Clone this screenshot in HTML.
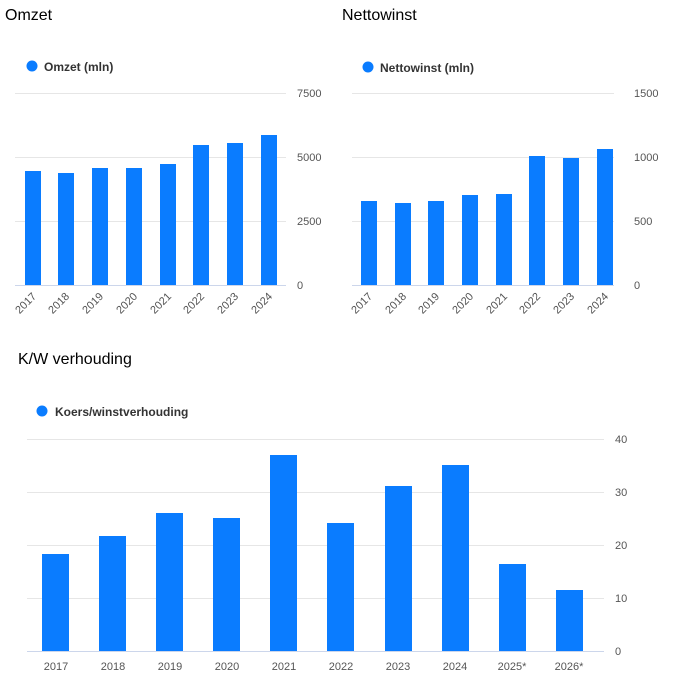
<!DOCTYPE html><html><head><style>body{margin:0;background:#fff}svg{display:block}text{font-family:"Liberation Sans",sans-serif}</style></head><body>
<svg width="674" height="697" xmlns="http://www.w3.org/2000/svg">
<g font-size="16" fill="#000"><text x="5" y="20">Omzet</text><text x="342" y="20">Nettowinst</text><text x="18" y="364">K/W verhouding</text></g>
<g font-size="12" fill="#333" font-weight="bold"><circle cx="32" cy="66" r="5.5" fill="#0a7cff"/><text x="44" y="71">Omzet (mln)</text>
<circle cx="368" cy="67" r="5.5" fill="#0a7cff"/><text x="380" y="72">Nettowinst (mln)</text>
<circle cx="42" cy="411" r="5.5" fill="#0a7cff"/><text x="55" y="416">Koers/winstverhouding</text></g>
<g stroke="#e6e6e6" stroke-width="1">
<line x1="15" x2="286" y1="93.5" y2="93.5"/><line x1="15" x2="286" y1="157.5" y2="157.5"/><line x1="15" x2="286" y1="221.5" y2="221.5"/>
<line x1="352" x2="614" y1="93.5" y2="93.5"/><line x1="352" x2="614" y1="157.5" y2="157.5"/><line x1="352" x2="614" y1="221.5" y2="221.5"/>
<line x1="27" x2="604" y1="439.5" y2="439.5"/><line x1="27" x2="604" y1="492.5" y2="492.5"/><line x1="27" x2="604" y1="545.5" y2="545.5"/><line x1="27" x2="604" y1="598.5" y2="598.5"/>
</g>
<g stroke="#ccd6eb"><line x1="15" x2="286" y1="285.5" y2="285.5"/><line x1="352" x2="614" y1="285.5" y2="285.5"/><line x1="27" x2="604" y1="651.5" y2="651.5"/></g>
<g fill="#0a7cff">
<rect x="25" y="171" width="16" height="114"/><rect x="58" y="173" width="16" height="112"/><rect x="92" y="168" width="16" height="117"/><rect x="126" y="168" width="16" height="117"/><rect x="160" y="164" width="16" height="121"/><rect x="193" y="145" width="16" height="140"/><rect x="227" y="143" width="16" height="142"/><rect x="261" y="135" width="16" height="150"/>
<rect x="361" y="201" width="16" height="84"/><rect x="395" y="203" width="16" height="82"/><rect x="428" y="201" width="16" height="84"/><rect x="462" y="195" width="16" height="90"/><rect x="496" y="194" width="16" height="91"/><rect x="529" y="156" width="16" height="129"/><rect x="563" y="158" width="16" height="127"/><rect x="597" y="149" width="16" height="136"/>
<rect x="42" y="554" width="27" height="97"/><rect x="99" y="536" width="27" height="115"/><rect x="156" y="513" width="27" height="138"/><rect x="213" y="518" width="27" height="133"/><rect x="270" y="455" width="27" height="196"/><rect x="327" y="523" width="27" height="128"/><rect x="385" y="486" width="27" height="165"/><rect x="442" y="465" width="27" height="186"/><rect x="499" y="564" width="27" height="87"/><rect x="556" y="590" width="27" height="61"/>
</g>
<g font-size="11" fill="#555">
<text x="297" y="97">7500</text><text x="297" y="161">5000</text><text x="297" y="225">2500</text><text x="297" y="289">0</text>
<text x="634" y="97">1500</text><text x="634" y="161">1000</text><text x="634" y="225">500</text><text x="634" y="289">0</text>
<text x="615" y="443">40</text><text x="615" y="496">30</text><text x="615" y="549">20</text><text x="615" y="602">10</text><text x="615" y="655">0</text>
</g>
<g font-size="11" fill="#555" text-anchor="end">
<text transform="translate(37,297) rotate(-45)">2017</text><text transform="translate(70,297) rotate(-45)">2018</text><text transform="translate(104,297) rotate(-45)">2019</text><text transform="translate(138,297) rotate(-45)">2020</text><text transform="translate(172,297) rotate(-45)">2021</text><text transform="translate(205,297) rotate(-45)">2022</text><text transform="translate(239,297) rotate(-45)">2023</text><text transform="translate(273,297) rotate(-45)">2024</text>
<text transform="translate(373,297) rotate(-45)">2017</text><text transform="translate(407,297) rotate(-45)">2018</text><text transform="translate(440,297) rotate(-45)">2019</text><text transform="translate(474,297) rotate(-45)">2020</text><text transform="translate(508,297) rotate(-45)">2021</text><text transform="translate(541,297) rotate(-45)">2022</text><text transform="translate(575,297) rotate(-45)">2023</text><text transform="translate(609,297) rotate(-45)">2024</text>
</g>
<g font-size="11" fill="#555" text-anchor="middle">
<text x="56" y="670">2017</text><text x="113" y="670">2018</text><text x="170" y="670">2019</text><text x="227" y="670">2020</text><text x="284" y="670">2021</text><text x="341" y="670">2022</text><text x="398" y="670">2023</text><text x="455" y="670">2024</text><text x="512" y="670">2025*</text><text x="569" y="670">2026*</text>
</g>
</svg></body></html>
